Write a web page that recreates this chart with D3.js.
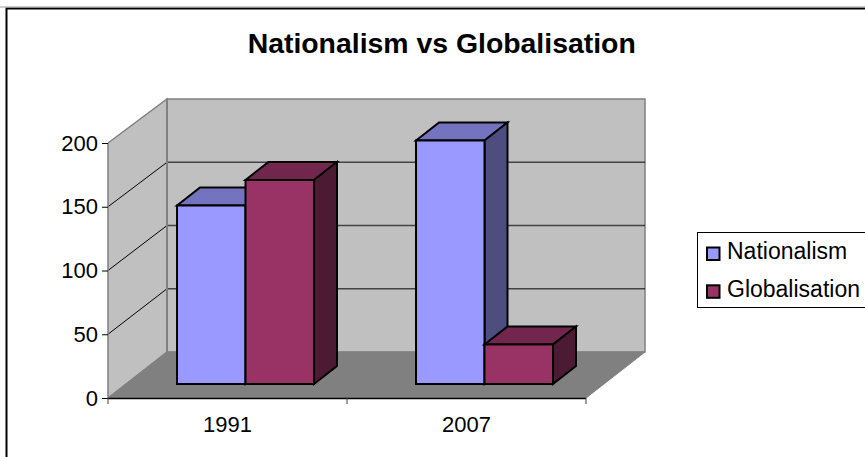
<!DOCTYPE html>
<html><head><meta charset="utf-8">
<script src="https://cdn.jsdelivr.net/npm/d3@7"></script>
<style>html,body{margin:0;padding:0;background:#fff;overflow:hidden}svg{display:block}text{font-family:"Liberation Sans",Arial,sans-serif;fill:#000}</style>
</head><body><svg id="c" width="865" height="457"></svg>
<script>
const title = "Nationalism vs Globalisation";
const categories = ["1991", "2007"];
const seriesNames = ["Nationalism", "Globalisation"];
const nationalism = [140, 191];
const globalisation = [160, 31];
const yTicks = [0, 50, 100, 150, 200];
const seriesColors = ["#9999ff", "#993366"];
const topColors = ["#7373bf", "#73264d"];
const sideColors = ["#4d4d80", "#4d1a33"];

const svg = d3.select("#c");
const x0 = d3.scaleBand().domain(categories).range([108, 586]).paddingInner(0).paddingOuter(0);
const x1 = d3.scaleBand().domain(seriesNames).range([0, x0.bandwidth()]).paddingInner(0).paddingOuter(0.745);
const y = d3.scaleLinear().domain([0, 200]).range([398, 143]);
const backY = d3.scaleLinear().domain([0, 200]).range([352, 99]);
const depthX = 59;
const barDepth = {dx: 23, dy: -18, fx: 18.0, fy: -14};
const line = d3.line();

svg.append("path").attr("d", "M6.5,457V8.5H865").attr("fill", "none").attr("stroke", "#000").attr("stroke-width", 2);
svg.append("path").attr("d", "M0,7H865").attr("stroke", "#999").attr("stroke-width", 1).attr("fill", "none");
svg.append("text").attr("x", 441.7).attr("y", 52.5).attr("text-anchor", "middle")
  .attr("font-size", 28.4).attr("font-weight", "bold").text(title);

const xL = x0.range()[0], xR = x0.range()[1], yB = y(0), yT = y(200);
const wallStroke = "#808080";
svg.append("path").attr("d", line([[xL, yB], [xL + depthX, backY(0)], [xL + depthX, backY(200)], [xL, yT]]))
  .attr("fill", "#c0c0c0").attr("stroke", wallStroke).attr("stroke-width", 1.5);
svg.append("path").attr("d", line([[xL + depthX, backY(0)], [xR + depthX, backY(0)], [xR + depthX, backY(200)], [xL + depthX, backY(200)]]) + "Z")
  .attr("fill", "#c0c0c0").attr("stroke", wallStroke).attr("stroke-width", 1.5);
svg.append("path").attr("d", line([[xL, yB], [xR, yB], [xR + depthX, backY(0)], [xL + depthX, backY(0)]]) + "Z")
  .attr("fill", "#808080").attr("stroke", "#808080");

yTicks.filter(d => d > 0 && d < 200).forEach(d => {
  svg.append("path").attr("d", line([[xL, y(d)], [xL + depthX, backY(d)]]))
    .attr("fill", "none").attr("stroke", "#000").attr("stroke-width", 1);
  svg.append("path").attr("d", line([[xL + depthX, backY(d)], [xR + depthX, backY(d)]]))
    .attr("fill", "none").attr("stroke", "#000").attr("stroke-opacity", 0.65).attr("stroke-width", 1.4);
});
svg.append("path").attr("d", line([[xL + depthX, backY(200)], [xL + depthX, backY(0)]])).attr("stroke", wallStroke).attr("stroke-width", 2);

const yAxis = d3.axisLeft(y).tickValues(yTicks).tickSize(6).tickPadding(4);
const gy = svg.append("g").attr("transform", `translate(${xL},0)`).call(yAxis);
gy.select(".domain").attr("d", `M0,${yT}V${yB}`).attr("stroke", "#808080").attr("stroke-width", 1.5);
gy.selectAll("text").attr("font-size", 22).style("font-family", '"Liberation Sans"');
const xAxis = d3.axisBottom(x0).tickSize(0).tickPadding(18);
const gx = svg.append("g").attr("transform", `translate(0,${yB})`).call(xAxis);
gx.select(".domain").attr("stroke", "#000").attr("d", `M${xL},0.5H${xR}`).attr("stroke-width", 1.5);
gx.selectAll("text").attr("font-size", 22).style("font-family", '"Liberation Sans"');
const edges = [xL, xL + x0.bandwidth(), xR];
gx.selectAll("path.edge").data(edges).join("path").attr("class", "edge")
  .attr("d", d => `M${d},0V6`).attr("stroke", "#404040").attr("stroke-width", 1);

const bars = [];
categories.forEach((c, i) => {
  bars.push({cat: c, s: 0, v: nationalism[i]});
  bars.push({cat: c, s: 1, v: globalisation[i]});
});
const gb = svg.append("g").attr("stroke", "#000").attr("stroke-width", 2).attr("stroke-linejoin", "miter");
bars.forEach(b => {
  const xa = x0(b.cat) + x1(seriesNames[b.s]) + barDepth.fx;
  const xb = xa + x1.bandwidth();
  const yt = y(b.v) + barDepth.fy, yb = y(0) + barDepth.fy;
  gb.append("path").attr("d", line([[xa, yt], [xa + barDepth.dx, yt + barDepth.dy], [xb + barDepth.dx, yt + barDepth.dy], [xb, yt]]) + "Z").attr("fill", topColors[b.s]);
  gb.append("path").attr("d", line([[xb, yt], [xb + barDepth.dx, yt + barDepth.dy], [xb + barDepth.dx, yb + barDepth.dy], [xb, yb]]) + "Z").attr("fill", sideColors[b.s]);
  gb.append("rect").attr("x", xa).attr("y", yt).attr("width", xb - xa).attr("height", yb - yt).attr("fill", seriesColors[b.s]);
});

const legY = d3.scalePoint().domain(seriesNames).range([253.5, 291.3]);
svg.append("rect").attr("x", 697.5).attr("y", 232.5).attr("width", 168).attr("height", 75).attr("fill", "#fff").attr("stroke", "#000").attr("stroke-width", 1);
seriesNames.forEach((n, i) => {
  svg.append("rect").attr("x", 707).attr("y", legY(n) - 6).attr("width", 12.5).attr("height", 12.5).attr("fill", seriesColors[i]).attr("stroke", "#000").attr("stroke-width", 2);
  svg.append("text").attr("x", 727).attr("y", legY(n) + 5.5).attr("font-size", 23).text(n);
});
</script></body></html>
